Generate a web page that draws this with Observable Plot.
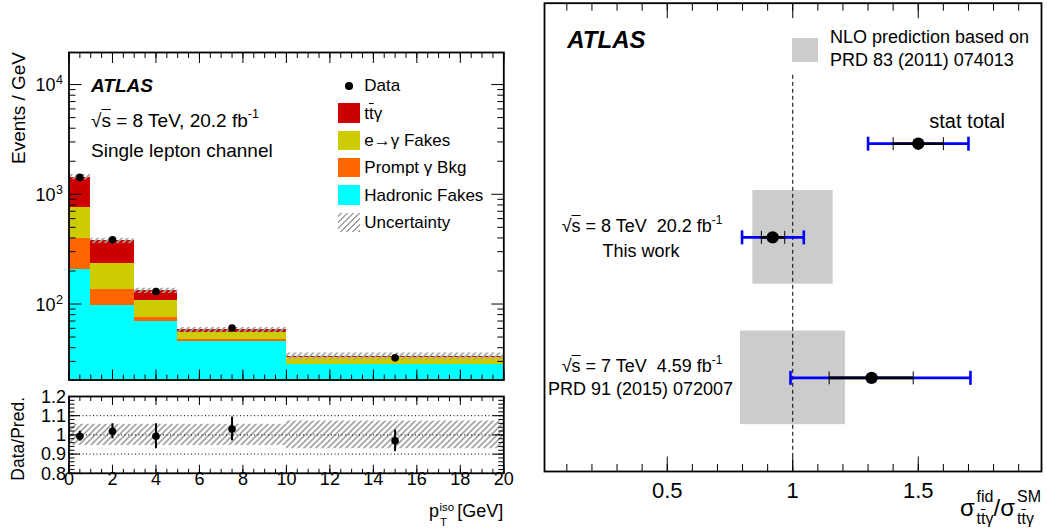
<!DOCTYPE html>
<html><head><meta charset="utf-8">
<script src="https://cdn.jsdelivr.net/npm/d3@7"></script>
<script src="https://cdn.jsdelivr.net/npm/@observablehq/plot@0.6"></script>
<style>
html,body{margin:0;padding:0;background:#fff;}
#chart{position:relative;width:1047px;height:529px;overflow:hidden;font-family:"Liberation Sans",Arial,Helvetica,sans-serif;color:#000;background:#fff;}
#chart svg{position:absolute;}
.t{position:absolute;white-space:nowrap;line-height:1;}
.sup{font-size:0.66em;position:relative;top:-0.68em;}
.ov{text-decoration:overline;}
.sw{position:absolute;}
</style></head><body><div id="chart"></div>
<script>
// ===== DATA: left panel (events per GeV in bins of photon pT^iso) =====
const binEdges = [0, 1, 3, 5, 10, 20];
const componentNames = ["Hadronic Fakes", "Prompt γ Bkg", "e→γ Fakes", "ttγ"];
const componentColors = ["#00ffff", "#ff6600", "#cccc00", "#cc0000"];
const hadronicFakes   = [205, 96.5, 69, 45.7, 28.0];
const promptGammaBkg  = [190, 38.5, 6.5, 1.4, 0.3];
const eToGammaFakes   = [360, 101, 31.5, 8.1, 4.0];
const ttGamma         = [680, 140, 25, 2.8, 1.1];
const dataEventsPerGeV = [1425, 385, 130, 60.5, 32.3];
const predRelUncertainty = [0.055, 0.055, 0.055, 0.055, 0.072];
const ratioDataPred = [0.993, 1.019, 0.993, 1.031, 0.969];
const ratioDataErr  = [0.026, 0.039, 0.065, 0.062, 0.056];
const ptTickValues = [0, 2, 4, 6, 8, 10, 12, 14, 16, 18, 20];
const ptTickLabels = ["0", "2", "4", "6", "8", "10", "12", "14", "16", "18", "20"];
const ratioTickValues = [0.8, 0.9, 1.0, 1.1, 1.2];
const ratioTickLabels = ["0.8", "0.9", "1", "1.1", "1.2"];
const ratioRefLines = [0.9, 1.0, 1.1];
const eventDecades = [100, 1000, 10000];
const eventDecadeExponents = ["2", "3", "4"];

// ===== DATA: right panel (cross-section ratio to SM) =====
const measurementNames = ["legend example", "8 TeV (this work)", "7 TeV (PRD 91 072007)"];
const measurementRows  = [3, 5, 8];
const measuredRatio    = [1.5, 0.920, 1.314];
const statLow   = [1.4, 0.875, 1.145];
const statHigh  = [1.6, 0.968, 1.480];
const totalLow  = [1.3, 0.798, 0.991];
const totalHigh = [1.7, 1.044, 1.708];
const predictionRows = [5, 8];
const predictionLow  = [0.841, 0.792];
const predictionHigh = [1.161, 1.210];
const smReference = [1];
const sigmaTickValues = [0.5, 1, 1.5];
const sigmaTickLabels = ["0.5", "1", "1.5"];

// ===== helpers =====
const FONT = '"Liberation Sans", Arial, Helvetica, sans-serif';
const chart = document.getElementById("chart");
const tickShape = {draw(ctx, l) { ctx.moveTo(0, 0); ctx.lineTo(0, -l); }};
function xTicks(values, len, side) {
  return Plot.vector(values, {x: d => d, frameAnchor: side, length: len, rotate: side === "bottom" ? 0 : 180,
    anchor: "start", shape: tickShape, stroke: "black", strokeWidth: 1, strokeLinecap: "butt"});
}
function yTicks(values, len, side) {
  return Plot.vector(values, {y: d => d, frameAnchor: side, length: len, rotate: side === "left" ? 90 : -90,
    anchor: "start", shape: tickShape, stroke: "black", strokeWidth: 1, strokeLinecap: "butt"});
}
function addPattern(svg, id) {
  d3.select(svg).insert("defs", ":first-child").html(
    `<pattern id="${id}" patternUnits="userSpaceOnUse" width="6" height="6">` +
    `<path d="M-1.5,1.5 L1.5,-1.5 M0,6 L6,0 M4.5,7.5 L7.5,4.5" stroke="#a3a3a3" stroke-width="1.7"/></pattern>`);
}
function mount(svg, left, top) {
  svg.style.position = "absolute"; svg.style.left = left + "px"; svg.style.top = top + "px";
  chart.appendChild(svg);
}
function place(html, x, baseline, size, opt = {}) {
  const d = document.createElement("div");
  d.className = "t"; d.innerHTML = html;
  d.style.fontSize = size + "px";
  d.style.left = x + "px";
  d.style.top = (baseline - 0.8465 * size) + "px";
  if (opt.bold) d.style.fontWeight = "bold";
  if (opt.italic) d.style.fontStyle = "italic";
  if (opt.align === "center") d.style.transform = "translateX(-50%)";
  if (opt.align === "right") d.style.transform = "translateX(-100%)";
  chart.appendChild(d);
  return d;
}
function placeRot(html, baselineX, topEnd, size) {
  const d = document.createElement("div");
  d.className = "t"; d.innerHTML = html;
  d.style.fontSize = size + "px";
  d.style.left = (baselineX - 0.8465 * size) + "px";
  d.style.top = topEnd + "px";
  d.style.transformOrigin = "0 0";
  d.style.transform = "rotate(-90deg) translateX(-100%)";
  chart.appendChild(d);
}
function swatch(left, top, w, h, bg) {
  const d = document.createElement("div");
  d.className = "sw";
  Object.assign(d.style, {left: left + "px", top: top + "px", width: w + "px", height: h + "px", background: bg});
  chart.appendChild(d);
  return d;
}

// ===== derived tables =====
const nBins = binEdges.length - 1;
const binIdx = d3.range(nBins);
const layers = [hadronicFakes, promptGammaBkg, eToGammaFakes, ttGamma];
const Y_MIN = 20.3, Y_MAX = 19600;
const stackRows = [];
const totals = [];
binIdx.forEach(i => {
  let base = 0;
  layers.forEach((arr, k) => {
    const top = base + arr[i];
    stackRows.push({x1: binEdges[i], x2: binEdges[i + 1], y1: base === 0 ? Y_MIN : base, y2: top, comp: componentNames[k]});
    base = top;
  });
  totals.push(base);
});
const binRows = binIdx.map(i => ({
  x1: binEdges[i], x2: binEdges[i + 1], xc: (binEdges[i] + binEdges[i + 1]) / 2,
  data: dataEventsPerGeV[i], lo: totals[i] * (1 - predRelUncertainty[i]), hi: totals[i] * (1 + predRelUncertainty[i]),
  rlo: 1 - predRelUncertainty[i], rhi: 1 + predRelUncertainty[i],
  ratio: ratioDataPred[i], rErr: ratioDataErr[i]
}));
const ptMinor = d3.range(0, 20.01, 0.5);
const logMinor = [];
[10, 100, 1000, 10000].forEach(dec => { for (let k = 2; k <= 9; k++) { const v = k * dec; if (v > Y_MIN && v < Y_MAX) logMinor.push(v); } });
const ratioMinor = d3.range(0.8, 1.2001, 0.02);

// ===== top-left plot =====
const topPlot = Plot.plot({
  width: 520, height: 390,
  marginLeft: 68.5, marginRight: 16.7, marginTop: 52, marginBottom: 10.5,
  style: {fontFamily: FONT, background: "transparent", overflow: "visible"},
  x: {domain: [0, 20], axis: null},
  y: {type: "log", domain: [Y_MIN, Y_MAX], axis: null},
  color: {domain: componentNames, range: componentColors},
  marks: [
    Plot.rect(stackRows, {x1: "x1", x2: "x2", y1: "y1", y2: "y2", fill: "comp", shapeRendering: "crispEdges"}),
    Plot.rect(binRows, {x1: "x1", x2: "x2", y1: "lo", y2: "hi", fill: "url(#hatchTop)"}),
    Plot.dot(binRows, {x: "xc", y: "data", r: 3.8, fill: "black"}),
    xTicks(ptMinor, 5.5, "bottom"), xTicks(ptTickValues, 10.5, "bottom"),
    xTicks(ptMinor, 5.5, "top"), xTicks(ptTickValues, 10.5, "top"),
    yTicks(logMinor, 6.5, "left"), yTicks(eventDecades, 12.5, "left"),
    yTicks(logMinor, 6.5, "right"), yTicks(eventDecades, 12.5, "right"),
    Plot.text(eventDecades, {y: d => d, frameAnchor: "left", lineAnchor: "middle", text: () => "10", textAnchor: "end", dx: -13.5, dy: 1, fontSize: 18}),
    Plot.text(eventDecades, {y: d => d, frameAnchor: "left", lineAnchor: "middle", text: (d, i) => eventDecadeExponents[i], textAnchor: "start", dx: -13, dy: -4.5, fontSize: 12.5}),
    Plot.frame({stroke: "black", strokeWidth: 1.8})
  ]
});
addPattern(topPlot, "hatchTop");
mount(topPlot, 0, 0);

// ===== ratio plot =====
const ratioPlot = Plot.plot({
  width: 520, height: 149,
  marginLeft: 68.5, marginRight: 16.7, marginTop: 16, marginBottom: 56.2,
  style: {fontFamily: FONT, background: "transparent", overflow: "visible"},
  x: {domain: [0, 20], axis: null},
  y: {domain: [0.8, 1.2], axis: null},
  marks: [
    Plot.rect(binRows, {x1: "x1", x2: "x2", y1: "rlo", y2: "rhi", fill: "url(#hatchRatio)"}),
    Plot.ruleY(ratioRefLines, {stroke: "black", strokeWidth: 1, strokeDasharray: "1,2.5"}),
    Plot.ruleX(binRows, {x: "xc", y1: d => d.ratio - d.rErr, y2: d => d.ratio + d.rErr, stroke: "black", strokeWidth: 2}),
    Plot.dot(binRows, {x: "xc", y: "ratio", r: 3.8, fill: "black"}),
    xTicks(ptMinor, 4.5, "bottom"), xTicks(ptTickValues, 8.5, "bottom"),
    xTicks(ptMinor, 4.5, "top"), xTicks(ptTickValues, 8.5, "top"),
    yTicks(ratioMinor, 5.5, "left"), yTicks(ratioTickValues, 11, "left"),
    yTicks(ratioMinor, 5.5, "right"), yTicks(ratioTickValues, 11, "right"),
    Plot.text(ratioTickValues, {y: d => d, frameAnchor: "left", lineAnchor: "middle", text: (d, i) => ratioTickLabels[i], textAnchor: "end", dx: -3, dy: 0.5, fontSize: 18}),
    Plot.text(ptTickValues, {x: d => d, frameAnchor: "bottom", lineAnchor: "middle", text: (d, i) => ptTickLabels[i], dy: 5.5, fontSize: 18}),
    Plot.frame({stroke: "black", strokeWidth: 1.8})
  ]
});
addPattern(ratioPlot, "hatchRatio");
mount(ratioPlot, 0, 380);

// ===== right plot =====
const mIdx = d3.range(measuredRatio.length);
const pIdx = d3.range(predictionLow.length);
const sigmaMinor = d3.range(0.1, 1.95, 0.1);
const capRows = mIdx.flatMap(i => [
  {x: totalLow[i], y: measurementRows[i], kind: "total"}, {x: totalHigh[i], y: measurementRows[i], kind: "total"},
  {x: statLow[i], y: measurementRows[i], kind: "stat"}, {x: statHigh[i], y: measurementRows[i], kind: "stat"}
]);
const ROW_HALF = 1.0;
const rightPlot = Plot.plot({
  width: 517, height: 529,
  marginLeft: 14, marginRight: 6, marginTop: 2.7, marginBottom: 58,
  style: {fontFamily: FONT, background: "transparent", overflow: "visible"},
  x: {domain: [0.011, 1.991], axis: null},
  y: {domain: [10, 0], axis: null},
  marks: [
    Plot.rect(pIdx, {x1: i => predictionLow[i], x2: i => predictionHigh[i], y1: i => predictionRows[i] - ROW_HALF, y2: i => predictionRows[i] + ROW_HALF, fill: "#cccccc"}),
    Plot.ruleX(smReference, {x: d => d, y1: 1.54, y2: 10, stroke: "black", strokeWidth: 1, strokeDasharray: "4,3"}),
    Plot.ruleY(mIdx, {y: i => measurementRows[i], x1: i => totalLow[i], x2: i => totalHigh[i], stroke: "#0000ff", strokeWidth: 2.8}),
    Plot.ruleY(mIdx, {y: i => measurementRows[i], x1: i => statLow[i], x2: i => statHigh[i], stroke: "black", strokeWidth: 2.6}),
    Plot.vector(capRows.filter(d => d.kind === "total"), {x: "x", y: "y", length: 14, anchor: "middle", shape: tickShape, stroke: "#0000ff", strokeWidth: 2.6, strokeLinecap: "butt"}),
    Plot.vector(capRows.filter(d => d.kind === "stat"), {x: "x", y: "y", length: 13, anchor: "middle", shape: tickShape, stroke: "black", strokeWidth: 1, strokeLinecap: "butt"}),
    Plot.dot(mIdx, {x: i => measuredRatio[i], y: i => measurementRows[i], r: 6.2, fill: "black"}),
    xTicks(sigmaMinor, 7.5, "bottom"), xTicks(sigmaTickValues, 15, "bottom"),
    xTicks(sigmaMinor, 7.5, "top"), xTicks(sigmaTickValues, 15, "top"),
    Plot.text(sigmaTickValues, {x: d => d, frameAnchor: "bottom", lineAnchor: "middle", text: (d, i) => sigmaTickLabels[i], dy: 19, fontSize: 22}),
    Plot.frame({stroke: "black", strokeWidth: 1.8})
  ]
});
mount(rightPlot, 530, 0);

// ===== left annotations =====
place("ATLAS", 91, 91.7, 19, {bold: true, italic: true});
place('√<span class="ov">s</span> = 8 TeV, 20.2 fb<span class="sup">-1</span>', 91, 126.7, 19);
place("Single lepton channel", 91, 157.3, 19);
// legend
const dot = swatch(345.2, 82.2, 7.6, 7.6, "#000"); dot.style.borderRadius = "50%";
swatch(338.3, 103.3, 21.7, 19.4, componentColors[3]);
swatch(338.3, 130.6, 21.7, 19.4, componentColors[2]);
swatch(338.3, 157.9, 21.7, 19.4, componentColors[1]);
swatch(338.3, 185.2, 21.7, 19.4, componentColors[0]);
swatch(338.3, 212.5, 21.7, 19.4, "repeating-linear-gradient(-45deg, #a3a3a3 0 1.7px, transparent 1.7px 4.3px)");
place("Data", 364.3, 91.7, 17);
place('t<span class="ov">t</span>γ', 364.3, 119, 17);
place("e→γ Fakes", 364.3, 146.3, 17);
place("Prompt γ Bkg", 364.3, 173.6, 17);
place("Hadronic Fakes", 364.3, 201, 17);
place("Uncertainty", 364.3, 228.3, 17);
// axis titles
placeRot("Events / GeV", 25, 52, 19);
placeRot("Data/Pred.", 25, 397, 17.5);
place("p", 429, 517, 18);
place("iso", 439.5, 511.5, 11.5);
place("T", 440, 527, 11.5);
place("[GeV]", 503.3, 517, 18, {align: "right"});

// ===== right annotations =====
place("ATLAS", 567.3, 48.3, 24, {bold: true, italic: true});
swatch(791.7, 37.7, 26.6, 24.6, "#cccccc");
place("NLO prediction based on", 830, 43.3, 18);
place("PRD 83 (2011) 074013", 830, 66, 18);
place("stat total", 929.3, 128.3, 20);
place('√<span class="ov">s</span> = 8 TeV&nbsp;&nbsp;20.2 fb<span class="sup">-1</span>', 642, 232.3, 18, {align: "center"});
place("This work", 641, 257.3, 18, {align: "center"});
place('√<span class="ov">s</span> = 7 TeV&nbsp;&nbsp;4.59 fb<span class="sup">-1</span>', 642, 372.7, 18, {align: "center"});
place("PRD 91 (2015) 072007", 640.5, 395, 18, {align: "center"});
place("σ", 960, 516, 24);
place("fid", 976.5, 503, 16);
place('t<span class="ov">t</span>γ', 976.5, 525, 16);
place("/σ", 993.5, 516, 24);
place("SM", 1017, 503, 16);
place('t<span class="ov">t</span>γ', 1017, 525, 16);
</script></body></html>
